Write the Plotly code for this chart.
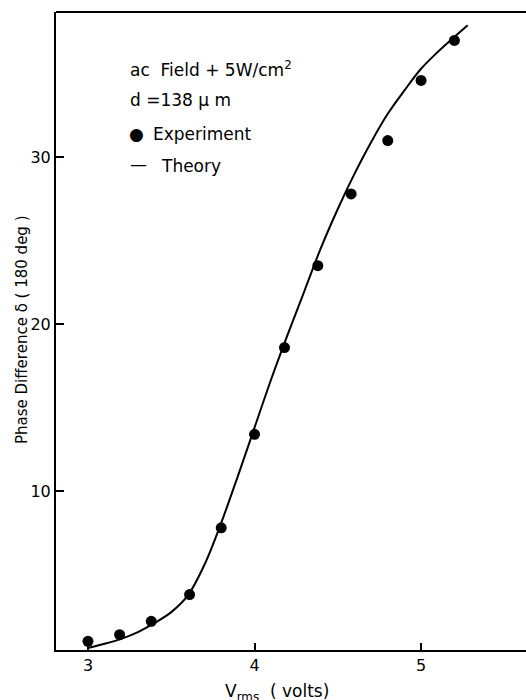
import plotly.graph_objects as go

# Experimental data
exp_v = [3.00, 3.19, 3.38, 3.61, 3.80, 4.00, 4.18, 4.38, 4.58, 4.80, 5.00, 5.20]
exp_phase = [1.0, 1.4, 2.2, 3.8, 7.8, 13.4, 18.6, 23.5, 27.8, 31.0, 34.6, 37.0]

# Theory curve
th_v = [3.0, 3.1, 3.2, 3.3, 3.4, 3.5, 3.6, 3.7, 3.8, 3.9, 4.0, 4.1, 4.2, 4.3, 4.4,
        4.5, 4.6, 4.7, 4.8, 4.9, 5.0, 5.1, 5.2, 5.28]
th_phase = [0.6, 0.85, 1.15, 1.55, 2.1, 2.75, 3.75, 5.6, 8.1, 10.9, 13.8, 16.7, 19.4, 22.0, 24.6,
            26.9, 29.0, 30.9, 32.6, 34.0, 35.3, 36.3, 37.2, 37.9]

x_ticks = [3, 4, 5]
y_ticks = [10, 20, 30]

FONT = "DejaVu Sans"

fig = go.Figure()
fig.add_trace(go.Scatter(x=th_v, y=th_phase, mode="lines",
                         line=dict(color="black", width=2, shape="spline", smoothing=1.0),
                         showlegend=False, hoverinfo="skip"))
fig.add_trace(go.Scatter(x=exp_v, y=exp_phase, mode="markers", marker=dict(color="black", size=11),
                         showlegend=False))

fig.update_layout(
    width=526, height=700,
    margin=dict(l=56, r=0, t=12, b=50),
    paper_bgcolor="white", plot_bgcolor="white",
    font=dict(family=FONT, color="black", size=16),
    xaxis=dict(range=[2.808, 5.63], tickvals=x_ticks, ticks="inside", ticklen=7, tickwidth=1.5,
               tickcolor="black", showline=True, linecolor="black", linewidth=2,
               showgrid=False, zeroline=False, tickfont=dict(size=16, family=FONT)),
    yaxis=dict(range=[0.48, 38.7], tickvals=y_ticks, ticks="inside", ticklen=8, tickwidth=1.5,
               tickcolor="black", showline=True, linecolor="black", linewidth=2,
               showgrid=False, zeroline=False, tickfont=dict(size=16, family=FONT)),
    shapes=[dict(type="line", xref="paper", yref="paper", x0=0, x1=1, y0=1, y1=1,
                 line=dict(color="black", width=2))],
)

annots = [
    dict(text="ac  Field + 5W/cm<sup>2</sup>", x=128, y=69),
    dict(text="d =138 μ m", x=128, y=100),
    dict(text="●", x=127, y=134),
    dict(text="Experiment", x=151, y=134),
    dict(text="—", x=128, y=164),
    dict(text="Theory", x=159, y=166),
]
for a in annots:
    fig.add_annotation(text=a["text"], xref="paper", yref="paper",
                       x=(a["x"] - 56) / 470, y=1 - (a["y"] - 12) / 638,
                       xanchor="left", yanchor="middle", showarrow=False,
                       font=dict(size=17, family=FONT, color="black"))

fig.add_annotation(text="Phase Difference δ ( 180 deg )", xref="paper", yref="paper",
                   x=(22 - 56) / 470, y=1 - (330 - 12) / 638, textangle=-90,
                   xanchor="center", yanchor="middle", showarrow=False,
                   font=dict(size=15, family=FONT, color="black"))
fig.add_annotation(text="V<sub>rms</sub>  ( volts)", xref="paper", yref="paper",
                   x=(277 - 56) / 470, y=1 - (692 - 12) / 638,
                   xanchor="center", yanchor="middle", showarrow=False,
                   font=dict(size=17, family=FONT, color="black"))

fig.write_html("out.html")
